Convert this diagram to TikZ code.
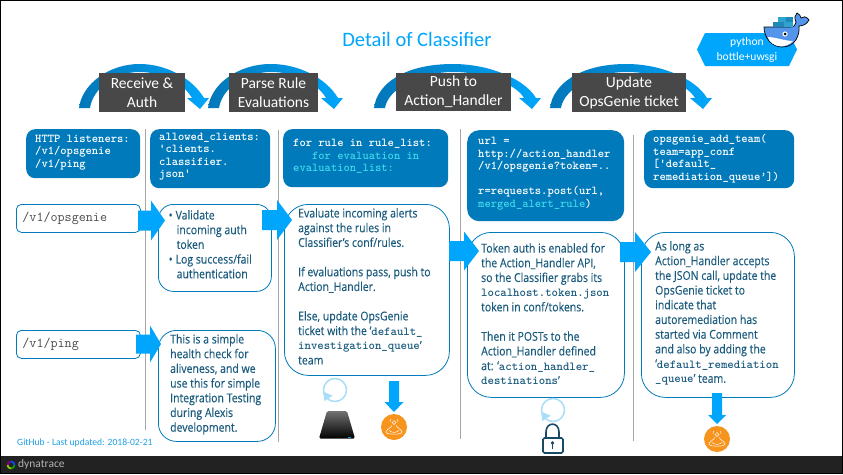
\documentclass[tikz,border=0pt]{standalone}
\usepackage{fontspec}
\setmainfont{Carlito}
\newfontfamily\bodyfont{Open Sans}[FakeStretch=0.86,FakeBold=0.25]
\usetikzlibrary{shapes.misc,calc}
\definecolor{boxblue}{HTML}{007ABA}
\definecolor{brightblue}{HTML}{00A6FB}
\definecolor{deepblue}{HTML}{0277B9}
\definecolor{bodyink}{HTML}{1B5C7E}
\definecolor{cyanink}{HTML}{3FD8EE}
\definecolor{labelgrey}{HTML}{484848}
\definecolor{ruleline}{HTML}{A6A6A6}
\definecolor{cyclecol}{HTML}{A9DEF9}
\definecolor{orangecol}{HTML}{F7941E}
\definecolor{barcol}{HTML}{222222}
\definecolor{whalecol}{HTML}{5295EA}
\definecolor{crateA}{HTML}{1E88B8}
\definecolor{crateB}{HTML}{2FA3CF}
\definecolor{githubcol}{HTML}{1F9FE4}
\newcommand{\mymono}[1]{{\ttfamily\bfseries\fontsize{12.2}{12.6}\selectfont #1}}
\newcommand{\mycurve}[2]{%
  \pgfmathsetmacro{\cxs}{#1}\pgfmathsetmacro{\ctp}{#2}\pgfmathsetmacro{\cwid}{#2-#1}%
  \shade[left color=deepblue,right color=brightblue]
   (\cxs,108) .. controls (\cxs+3,84) and (\cxs+30,64) .. (\cxs+.5*\cwid,64)
   .. controls (\cxs+.72*\cwid,64) and (\ctp-8,78) .. (\ctp+4,98)
   -- (\ctp+9,98) -- (\ctp,109) -- (\ctp-13,98) -- (\ctp-8,98)
   .. controls (\ctp-16,84) and (\cxs+.7*\cwid,72) .. (\cxs+.5*\cwid,72)
   .. controls (\cxs+.3*\cwid,72) and (\cxs+14,88) .. (\cxs+11,108) -- cycle;}
\newcommand{\blockright}[6]{% x0, xh, tip, yc, halfbody, halfhead
  \fill[brightblue] (#1,#4-#5) -- (#2,#4-#5) -- (#2,#4-#6) -- (#3,#4) -- (#2,#4+#6) -- (#2,#4+#5) -- (#1,#4+#5) -- cycle;}
\newcommand{\blockdown}[6]{% y0, yh, tip, xc, halfbody, halfhead
  \fill[brightblue] (#4-#5,#1) -- (#4-#5,#2) -- (#4-#6,#2) -- (#4,#3) -- (#4+#6,#2) -- (#4+#5,#2) -- (#4+#5,#1) -- cycle;}
\newcommand{\cycleicon}[2]{%
  \draw[cyclecol,line width=1.5pt] (#1,#2) circle (11.5);
  \fill[cyclecol] (#1-11.7,#2+1.7) -- (#1-2.3,#2+5.7) -- (#1-10.7,#2+11) -- cycle;}
\newcommand{\oncall}[2]{%
  \fill[orangecol] (#1,#2) circle (13);
  \begin{scope}[shift={(#1,#2)},white,line width=.5pt]
   \draw (0,-4.5) circle (1.9);
   \draw (-2,-1.5) .. controls (-3.5,1) and (-8,3) .. (-8,5) .. controls (-8,8) and (8,8) .. (8,5) .. controls (8,3) and (3.5,1) .. (2,-1.5);
   \draw (-5,3.5) .. controls (-2,6) and (2,6) .. (5,3.5);
   \draw (-3.5,-8) -- (-4,-5); \draw (3.5,-8) -- (4,-5);
  \end{scope}}
\tikzset{
  labelbox/.style={fill=labelgrey,text=white,align=center,inner sep=0pt,font=\fontsize{15.5}{19}\selectfont},
  codebox/.style={fill=boxblue,rounded corners=9pt,anchor=north west,inner sep=0pt},
  outbox/.style={draw=boxblue,fill=white,line width=.8pt,anchor=north west,inner sep=0pt},
  routebox/.style={outbox,rounded corners=5pt,text=black!70,align=left,text width=112pt,inner xsep=6pt,minimum height=28pt,font=\ttfamily\fontsize{13.7}{14}\selectfont},
  codetext/.style={anchor=north west,inner sep=0pt,align=left,text=white,font=\ttfamily\bfseries\fontsize{12}{12.6}\selectfont},
  bodytext/.style={anchor=north west,inner sep=0pt,align=left,text=bodyink,font=\bodyfont\fontsize{12.2}{14.7}\selectfont},
  vrule/.style={ruleline,line width=.9pt},
}
\begin{document}
\begin{tikzpicture}[x=1pt,y=-1pt]
\useasboundingbox (0,0) rectangle (843,474);
\fill[white] (0,0) rectangle (843,474);
% frame and footer bar
\fill[barcol] (0,456) rectangle (843,474);
\draw[black,line width=1.2pt] (0.6,0.6) rectangle (842.4,473.4);
% title
\node[text=brightblue,font=\fontsize{20.5}{24}\selectfont,inner sep=0pt] (title) at (417,39) {Detail of Classifier};
% curved arrows and labels
\mycurve{79}{200}\mycurve{208}{334}\mycurve{374}{532}\mycurve{550}{703}
\node[labelbox,minimum width=86pt,minimum height=39pt] (step1) at (142,92.5) {Receive \&\\Auth};
\node[labelbox,minimum width=89pt,minimum height=39pt] (step2) at (273.5,92.5) {Parse Rule\\Evaluations};
\node[labelbox,minimum width=115pt,minimum height=38pt] (step3) at (453.5,92) {Push to\\Action\_Handler};
\node[labelbox,minimum width=114pt,minimum height=39pt] (step4) at (629,92.5) {Update\\OpsGenie ticket};
% hexagon
\fill[brightblue] (697,49.5) -- (705,33) -- (789,33) -- (797,49.5) -- (789,66) -- (705,66) -- cycle;
\node[text=white,align=center,inner sep=0pt,font=\fontsize{11.6}{15}\selectfont] (runtime) at (747,49.5) {python\\bottle+uwsgi};
% docker whale
\draw[black,line width=.7pt,fill=whalecol] (764,27) -- (790,27) .. controls (794,27) and (796,25) .. (796,22) .. controls (794,18) and (795,15) .. (797,13) .. controls (799,14) and (801,16) .. (801,18) .. controls (803,16) and (806,16) .. (809,20) .. controls (807,24) and (803,26) .. (799,26) .. controls (800,34) and (796,47) .. (782,47) .. controls (772,47) and (764,38) .. cycle;
\fill[white] (767.5,37) .. controls (775,37) and (785,41) .. (793,41) .. controls (789,45) and (785,46.3) .. (781,46.3) .. controls (774,46.3) and (769.5,42) .. cycle;
\fill[crateA] (773,22) rectangle (784,26.5);
\fill[crateB] (784,22) rectangle (793,26.5);
\fill[crateB] (778,17) rectangle (786,22);
\fill[crateA] (786,17) rectangle (793,22);
\fill[white] (785,34) circle (2.6); \fill[black] (785,34) circle (1.5);
% code boxes
\node[codebox,minimum width=114pt,minimum height=49pt] (code1) at (26,129) {};
\node[codebox,minimum width=120pt,minimum height=59pt] (code2) at (150,129) {};
\node[codebox,minimum width=165pt,minimum height=58pt] (code3) at (283,129) {};
\node[codebox,rounded corners=12pt,minimum width=157pt,minimum height=91pt] (code4) at (467,130) {};
\node[codebox,minimum width=150pt,minimum height=58pt] (code5) at (644,130) {};
\node[codetext] (t1) at (35,134.5) {HTTP listeners:\\/v1/opsgenie\\/v1/ping};
\node[codetext] (t2) at (159,132.5) {allowed\_clients:\\'clients.\\classifier.\\json'};
\node[codetext] (t3) at (293,139) {for rule in rule\_list:\\\hspace*{18.9pt}\textcolor{cyanink}{for evaluation in}\\\textcolor{cyanink}{evaluation\_list:}};
\node[codetext] (t4) at (478,137) {url =\\http://action\_handler\\/v1/opsgenie?token=..\\\mbox{}\\r=requests.post(url,\\\textcolor{cyanink}{merged\_alert\_rule})};
\node[codetext] (t5) at (653,134) {opsgenie\_add\_team(\\team=app\_conf\\{[}'default\_\\remediation\_queue’{]})};
% vertical rules
\draw[vrule] (145.5,129) -- (145.5,430);
\draw[vrule] (278.5,130) -- (278.5,442);
\draw[vrule] (460.5,129) -- (460.5,439);
\draw[vrule] (633.5,135) -- (633.5,441);
% route boxes
\node[routebox] (r1) at (16,204) {/v1/opsgenie};
\node[routebox] (r2) at (16,330) {/v1/ping};
% outlined text boxes
\node[outbox,rounded corners=15pt,minimum width=113pt,minimum height=87pt] (a) at (158,204) {};
\node[outbox,rounded corners=18pt,minimum width=117pt,minimum height=111pt] (b) at (158,330) {};
\node[outbox,rounded corners=24pt,minimum width=165pt,minimum height=171pt] (c) at (284,204) {};
\node[outbox,rounded corners=24pt,minimum width=157pt,minimum height=165pt] (d) at (467,232) {};
\node[outbox,rounded corners=24pt,minimum width=153pt,minimum height=165pt] (e) at (641,232) {};
\node[bodytext] (ta) at (168.5,210) {•\hspace{3pt}Validate\\\hspace*{8pt}incoming auth\\\hspace*{8pt}token\\•\hspace{3pt}Log success/fail\\\hspace*{8pt}authentication};
\node[bodytext] (tb) at (170,334) {This is a simple\\health check for\\aliveness, and we\\use this for simple\\Integration Testing\\during Alexis\\development.};
\node[bodytext] (tc) at (298,208) {Evaluate incoming alerts\\against the rules in\\Classifier’s conf/rules.\\\mbox{}\\If evaluations pass, push to\\Action\_Handler.\\\mbox{}\\Else, update OpsGenie\\ticket with the ‘\mymono{default\_}\\\mymono{investigation\_queue}’\\team};
\node[bodytext] (td) at (481,243) {Token auth is enabled for\\the Action\_Handler API,\\so the Classifier grabs its\\\mymono{localhost.token.json}\\token in conf/tokens.\\\mbox{}\\Then it POSTs to the\\Action\_Handler defined\\at: ‘\mymono{action\_handler\_}\\\mymono{destinations}’};
\node[bodytext] (te) at (655,241) {As long as\\Action\_Handler accepts\\the JSON call, update the\\OpsGenie ticket to\\indicate that\\autoremediation has\\started via Comment\\and also by adding the\\‘\mymono{default\_remediation}\\\mymono{\_queue}’ team.};
% block arrows
\blockright{138}{151}{165}{220.5}{10}{20}
\blockright{262}{277}{292}{220}{10}{20}
\blockright{136}{150}{161}{344}{9.5}{18.5}
\blockright{449}{464}{479}{251}{10}{19.5}
\blockright{620}{635}{651}{252}{10}{20}
\blockdown{381}{402}{412}{394}{5}{9.5}
\blockdown{393}{415}{424}{717}{5}{9}
% icons
\cycleicon{335}{390}
\cycleicon{553}{410}
\oncall{394}{427}
\oncall{717}{439}
% disk
\shade[top color=black!55,bottom color=black,rounded corners=1.5pt] (327,411) -- (347,411) -- (355,438.5) -- (319,438.5) -- cycle;
\fill[boxblue!60!cyan] (347.5,437) rectangle (350.5,438);
% lock
\draw[bodyink!80!black,line width=1.6pt] (546,438) -- (546,432) .. controls (546,421.5) and (559,421.5) .. (559,432) -- (559,438);
\draw[bodyink!80!black,line width=1.6pt,fill=white,rounded corners=1.5pt] (543,438) rectangle (563,453);
\fill[bodyink!80!black] (552.5,443) circle (1.8);
\fill[bodyink!80!black] (551.6,443) rectangle (553.4,449);
% footer
\node[anchor=west,inner sep=0pt,text=githubcol,font=\fontsize{9.6}{12}\selectfont] (gh) at (17,443) {GitHub - Last updated: 2018-02-21};
\begin{scope}[line width=1.7pt]
\draw[green!65!black] (11,465) ++(90:3.5) arc (90:0:3.5);
\draw[blue!70!cyan] (11,465) ++(0:3.5) arc (0:-90:3.5);
\draw[violet] (11,465) ++(-90:3.5) arc (-90:-180:3.5);
\draw[lime!80!black] (11,465) ++(180:3.5) arc (180:90:3.5);
\end{scope}
\node[anchor=west,inner sep=0pt,text=black!30,font=\fontsize{11.5}{14}\selectfont] (dt) at (18,464) {dynatrace};
\end{tikzpicture}
\end{document}
